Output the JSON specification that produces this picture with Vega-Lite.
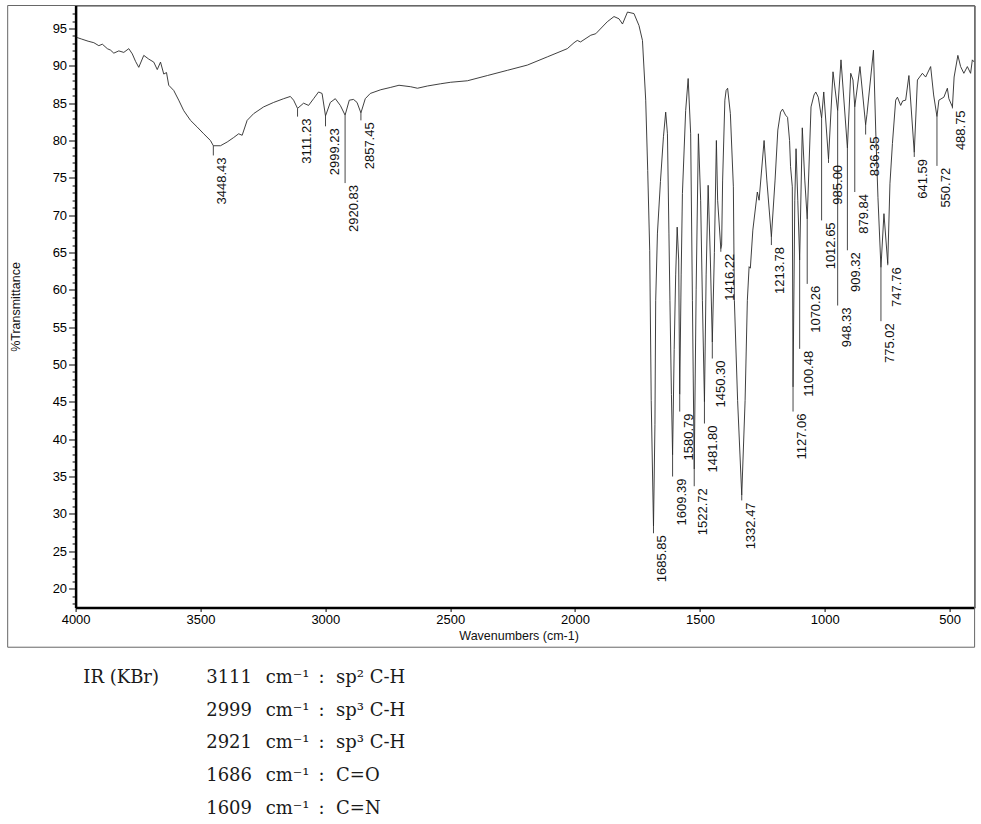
{
  "$schema": "https://vega.github.io/schema/vega-lite/v6.json",
  "background": "white",
  "padding": {"left": 6.6, "top": 4.5, "right": 0, "bottom": 0},
  "autosize": {"type": "pad"},
  "spacing": 5,
  "config": {
    "font": "Liberation Sans",
    "view": {"stroke": "#444", "strokeWidth": 1},
    "axis": {"labelFont": "Liberation Sans", "titleFont": "Liberation Sans", "labelColor": "#000", "titleColor": "#111", "grid": false, "titleFontWeight": "normal"}
  },
  "datasets": {
    "spectrum": [
      {"wn": 3995, "t": 93.8}, {"wn": 3977, "t": 93.6}, {"wn": 3950, "t": 93.3}, {"wn": 3927, "t": 93.1},
      {"wn": 3907, "t": 92.7}, {"wn": 3893, "t": 92.9}, {"wn": 3873, "t": 92.3}, {"wn": 3860, "t": 92.1},
      {"wn": 3847, "t": 91.7}, {"wn": 3827, "t": 92.0}, {"wn": 3807, "t": 91.8}, {"wn": 3787, "t": 92.3},
      {"wn": 3773, "t": 91.6}, {"wn": 3760, "t": 90.6}, {"wn": 3747, "t": 89.8}, {"wn": 3727, "t": 91.4},
      {"wn": 3707, "t": 90.9}, {"wn": 3687, "t": 90.5}, {"wn": 3673, "t": 89.5}, {"wn": 3660, "t": 90.5},
      {"wn": 3647, "t": 88.9}, {"wn": 3636, "t": 89.1}, {"wn": 3627, "t": 87.4}, {"wn": 3607, "t": 86.7},
      {"wn": 3587, "t": 85.4}, {"wn": 3567, "t": 84.0}, {"wn": 3540, "t": 82.7}, {"wn": 3513, "t": 81.8},
      {"wn": 3487, "t": 80.9}, {"wn": 3460, "t": 80.0}, {"wn": 3448.43, "t": 79.3}, {"wn": 3420, "t": 79.3},
      {"wn": 3393, "t": 79.8}, {"wn": 3367, "t": 80.4}, {"wn": 3347, "t": 80.9}, {"wn": 3333, "t": 80.7},
      {"wn": 3313, "t": 82.7}, {"wn": 3287, "t": 83.6}, {"wn": 3247, "t": 84.5}, {"wn": 3207, "t": 85.1},
      {"wn": 3167, "t": 85.6}, {"wn": 3140, "t": 85.9}, {"wn": 3127, "t": 85.4}, {"wn": 3111.23, "t": 84.3},
      {"wn": 3087, "t": 85.0}, {"wn": 3067, "t": 84.7}, {"wn": 3047, "t": 85.6}, {"wn": 3027, "t": 86.5},
      {"wn": 3013, "t": 86.3}, {"wn": 2999.23, "t": 83.3}, {"wn": 2980, "t": 85.1}, {"wn": 2960, "t": 85.6},
      {"wn": 2940, "t": 84.7}, {"wn": 2920.83, "t": 83.4}, {"wn": 2904, "t": 85.4}, {"wn": 2887, "t": 85.5},
      {"wn": 2873, "t": 85.1}, {"wn": 2857.45, "t": 83.7}, {"wn": 2840, "t": 85.6}, {"wn": 2820, "t": 86.3},
      {"wn": 2778, "t": 86.8}, {"wn": 2740, "t": 87.1}, {"wn": 2705, "t": 87.4}, {"wn": 2658, "t": 87.2},
      {"wn": 2631, "t": 87.0}, {"wn": 2591, "t": 87.3}, {"wn": 2538, "t": 87.6}, {"wn": 2498, "t": 87.8},
      {"wn": 2431, "t": 88.0}, {"wn": 2351, "t": 88.7}, {"wn": 2271, "t": 89.4}, {"wn": 2191, "t": 90.1},
      {"wn": 2111, "t": 91.2}, {"wn": 2031, "t": 92.3}, {"wn": 2004, "t": 93.1}, {"wn": 1991, "t": 93.4},
      {"wn": 1978, "t": 93.2}, {"wn": 1937, "t": 94.1}, {"wn": 1917, "t": 94.3}, {"wn": 1871, "t": 95.9},
      {"wn": 1844, "t": 96.6}, {"wn": 1824, "t": 96.3}, {"wn": 1810, "t": 95.6}, {"wn": 1790, "t": 97.2},
      {"wn": 1764, "t": 97.0}, {"wn": 1744, "t": 95.4}, {"wn": 1730, "t": 93.4}, {"wn": 1717, "t": 85.4},
      {"wn": 1709, "t": 76.0}, {"wn": 1701, "t": 65.3}, {"wn": 1695, "t": 45.2}, {"wn": 1685.85, "t": 28.3},
      {"wn": 1680, "t": 42.0}, {"wn": 1677, "t": 58.6}, {"wn": 1670, "t": 67.6}, {"wn": 1658, "t": 74.5},
      {"wn": 1646, "t": 80.5}, {"wn": 1637, "t": 83.8}, {"wn": 1630, "t": 80.9}, {"wn": 1624, "t": 67.6},
      {"wn": 1620, "t": 58.6}, {"wn": 1614, "t": 46.0}, {"wn": 1609.39, "t": 37.9}, {"wn": 1603, "t": 52.0},
      {"wn": 1597, "t": 62.0}, {"wn": 1591, "t": 68.4}, {"wn": 1585, "t": 64.0}, {"wn": 1580.79, "t": 46.0},
      {"wn": 1575, "t": 62.0}, {"wn": 1570, "t": 72.9}, {"wn": 1557, "t": 84.0}, {"wn": 1547, "t": 88.3},
      {"wn": 1537, "t": 80.9}, {"wn": 1530, "t": 58.6}, {"wn": 1522.72, "t": 36.0}, {"wn": 1515, "t": 60.0},
      {"wn": 1506, "t": 80.9}, {"wn": 1497, "t": 72.0}, {"wn": 1490, "t": 58.6}, {"wn": 1481.8, "t": 45.0},
      {"wn": 1475, "t": 62.0}, {"wn": 1467, "t": 74.0}, {"wn": 1458, "t": 64.0}, {"wn": 1450.3, "t": 53.0},
      {"wn": 1442, "t": 65.0}, {"wn": 1434, "t": 80.0}, {"wn": 1429, "t": 72.0}, {"wn": 1416.22, "t": 65.5},
      {"wn": 1413, "t": 66.0}, {"wn": 1409, "t": 74.7}, {"wn": 1400, "t": 85.4}, {"wn": 1395, "t": 86.7},
      {"wn": 1389, "t": 87.0}, {"wn": 1378, "t": 83.6}, {"wn": 1366, "t": 73.8}, {"wn": 1362, "t": 58.6},
      {"wn": 1349, "t": 45.2}, {"wn": 1332.47, "t": 32.5}, {"wn": 1319, "t": 45.2}, {"wn": 1310, "t": 58.6},
      {"wn": 1303, "t": 63.1}, {"wn": 1298, "t": 62.9}, {"wn": 1288, "t": 68.0}, {"wn": 1270, "t": 73.1},
      {"wn": 1263, "t": 72.0}, {"wn": 1243, "t": 80.0}, {"wn": 1232, "t": 74.7}, {"wn": 1213.78, "t": 67.1},
      {"wn": 1199, "t": 74.7}, {"wn": 1188, "t": 81.4}, {"wn": 1177, "t": 83.8}, {"wn": 1169, "t": 84.2},
      {"wn": 1157, "t": 83.4}, {"wn": 1149, "t": 83.1}, {"wn": 1141, "t": 80.0}, {"wn": 1137, "t": 76.5},
      {"wn": 1130, "t": 73.8}, {"wn": 1127.06, "t": 47.0}, {"wn": 1120, "t": 72.0}, {"wn": 1115, "t": 78.9},
      {"wn": 1108, "t": 72.0}, {"wn": 1100.48, "t": 64.0}, {"wn": 1090, "t": 81.7}, {"wn": 1080, "t": 74.7},
      {"wn": 1070.26, "t": 69.5}, {"wn": 1055, "t": 84.5}, {"wn": 1043, "t": 86.1}, {"wn": 1036, "t": 86.5},
      {"wn": 1026, "t": 85.8}, {"wn": 1012.65, "t": 83.0}, {"wn": 1004, "t": 86.5}, {"wn": 985.0, "t": 77.5},
      {"wn": 967, "t": 89.2}, {"wn": 948.33, "t": 84.0}, {"wn": 935, "t": 90.8}, {"wn": 909.32, "t": 79.0},
      {"wn": 896, "t": 89.0}, {"wn": 887, "t": 88.1}, {"wn": 879.84, "t": 84.5}, {"wn": 859, "t": 89.9},
      {"wn": 836.35, "t": 82.1}, {"wn": 831, "t": 83.5}, {"wn": 805, "t": 92.1}, {"wn": 796, "t": 81.4},
      {"wn": 787, "t": 72.4}, {"wn": 775.02, "t": 63.0}, {"wn": 763, "t": 70.2}, {"wn": 747.76, "t": 63.5},
      {"wn": 739, "t": 74.2}, {"wn": 729, "t": 79.6}, {"wn": 716, "t": 85.4}, {"wn": 709, "t": 85.8},
      {"wn": 696, "t": 84.7}, {"wn": 688, "t": 85.3}, {"wn": 676, "t": 85.4}, {"wn": 663, "t": 88.7},
      {"wn": 641.59, "t": 78.4}, {"wn": 629, "t": 88.1}, {"wn": 609, "t": 89.0}, {"wn": 596, "t": 88.5},
      {"wn": 576, "t": 89.9}, {"wn": 564, "t": 86.1}, {"wn": 550.72, "t": 83.2}, {"wn": 543, "t": 85.4},
      {"wn": 523, "t": 85.8}, {"wn": 509, "t": 87.0}, {"wn": 503, "t": 85.6}, {"wn": 488.75, "t": 84.5},
      {"wn": 482, "t": 88.5}, {"wn": 467, "t": 91.4}, {"wn": 456, "t": 89.9}, {"wn": 443, "t": 89.0},
      {"wn": 429, "t": 89.9}, {"wn": 416, "t": 89.0}, {"wn": 409, "t": 90.8}, {"wn": 401, "t": 90.5}
    ],
    "peaks": [
      {"wn": 3448.43, "label": "3448.43", "t": 79.3, "end": 78.0},
      {"wn": 3111.23, "label": "3111.23", "t": 84.3, "end": 83.2},
      {"wn": 2999.23, "label": "2999.23", "t": 83.3, "end": 81.9},
      {"wn": 2920.83, "label": "2920.83", "t": 83.4, "end": 74.3},
      {"wn": 2857.45, "label": "2857.45", "t": 83.7, "end": 82.7},
      {"wn": 1685.85, "label": "1685.85", "t": 28.3, "end": 27.4},
      {"wn": 1609.39, "label": "1609.39", "t": 37.9, "end": 35.0},
      {"wn": 1580.79, "label": "1580.79", "t": 46.0, "end": 43.7},
      {"wn": 1522.72, "label": "1522.72", "t": 36.0, "end": 33.7},
      {"wn": 1481.8, "label": "1481.80", "t": 45.0, "end": 42.1},
      {"wn": 1450.3, "label": "1450.30", "t": 53.0, "end": 50.8},
      {"wn": 1416.22, "label": "1416.22", "t": 65.5, "end": 65.1},
      {"wn": 1332.47, "label": "1332.47", "t": 32.5, "end": 31.8},
      {"wn": 1213.78, "label": "1213.78", "t": 67.1, "end": 66.0},
      {"wn": 1127.06, "label": "1127.06", "t": 47.0, "end": 43.7},
      {"wn": 1100.48, "label": "1100.48", "t": 64.0, "end": 52.1},
      {"wn": 1070.26, "label": "1070.26", "t": 69.5, "end": 60.8},
      {"wn": 1012.65, "label": "1012.65", "t": 83.0, "end": 69.3},
      {"wn": 985.0, "label": "985.00", "t": 77.5, "end": 77.0},
      {"wn": 948.33, "label": "948.33", "t": 84.0, "end": 57.9},
      {"wn": 909.32, "label": "909.32", "t": 79.0, "end": 65.3},
      {"wn": 879.84, "label": "879.84", "t": 84.5, "end": 73.1},
      {"wn": 836.35, "label": "836.35", "t": 82.1, "end": 80.8},
      {"wn": 775.02, "label": "775.02", "t": 63.0, "end": 55.8},
      {"wn": 747.76, "label": "747.76", "t": 63.5, "end": 63.3},
      {"wn": 641.59, "label": "641.59", "t": 78.4, "end": 77.8},
      {"wn": 550.72, "label": "550.72", "t": 83.2, "end": 76.6},
      {"wn": 488.75, "label": "488.75", "t": 84.5, "end": 84.3}
    ],
    "notes": [
      {"line": 1, "head": "IR (KBr)", "freq": "3111", "unit": "cm⁻¹", "sep": ":", "assign": "sp² C-H"},
      {"line": 2, "head": "", "freq": "2999", "unit": "cm⁻¹", "sep": ":", "assign": "sp³ C-H"},
      {"line": 3, "head": "", "freq": "2921", "unit": "cm⁻¹", "sep": ":", "assign": "sp³ C-H"},
      {"line": 4, "head": "", "freq": "1686", "unit": "cm⁻¹", "sep": ":", "assign": "C=O"},
      {"line": 5, "head": "", "freq": "1609", "unit": "cm⁻¹", "sep": ":", "assign": "C=N"}
    ]
  },
  "vconcat": [
    {
      "width": 899,
      "height": 602,
      "resolve": {"axis": {"x": "independent", "y": "independent"}},
      "layer": [
        {
          "data": {"name": "spectrum"},
          "mark": {"type": "line", "color": "#2a2a2a", "strokeWidth": 0.9, "clip": true},
          "encoding": {
            "x": {
              "field": "wn", "type": "quantitative", "title": "Wavenumbers (cm-1)",
              "scale": {"domain": [4000, 400], "nice": false, "zero": false},
              "axis": {"orient": "bottom", "values": [4000, 3500, 3000, 2500, 2000, 1500, 1000, 500], "format": "d", "ticks": true, "tickSize": 4, "tickColor": "#000", "tickWidth": 1, "domainColor": "#000", "domainWidth": 2.5, "labelFontSize": 13, "labelPadding": 2, "labelFlush": false, "labelOverlap": false, "titleFontSize": 12.5, "titlePadding": 3, "titleX": 443}
            },
            "y": {
              "field": "t", "type": "quantitative", "title": "%Transmittance",
              "scale": {"domain": [17.46, 98.08], "nice": false, "zero": false},
              "axis": {
                "orient": "left",
                "values": [18,19,20,21,22,23,24,25,26,27,28,29,30,31,32,33,34,35,36,37,38,39,40,41,42,43,44,45,46,47,48,49,50,51,52,53,54,55,56,57,58,59,60,61,62,63,64,65,66,67,68,69,70,71,72,73,74,75,76,77,78,79,80,81,82,83,84,85,86,87,88,89,90,91,92,93,94,95,96,97],
                "format": "d",
                "labelExpr": "datum.value % 5 === 0 ? datum.label : ''",
                "ticks": true,
                "tickSize": {"condition": {"test": "datum.value % 5 === 0", "value": 7}, "value": 3.5},
                "tickColor": "#000", "tickWidth": 1, "domainColor": "#000", "domainWidth": 2.5,
                "labelFontSize": 13, "labelPadding": 2, "labelOverlap": false, "labelFlush": false,
                "titleFontSize": 12.5, "titlePadding": 30
              }
            }
          }
        },
        {
          "data": {"values": [{}]},
          "mark": {"type": "rect", "fillOpacity": 0, "stroke": "#666", "strokeWidth": 1, "clip": false},
          "encoding": {
            "x": {"datum": 4272, "type": "quantitative", "scale": {"domain": [4000, 400], "nice": false, "zero": false}, "axis": null},
            "x2": {"datum": 400},
            "y": {"datum": 98.08, "type": "quantitative", "scale": {"domain": [17.46, 98.08], "nice": false, "zero": false}, "axis": null},
            "y2": {"datum": 12.14}
          }
        },
        {
          "data": {"name": "peaks"},
          "mark": {"type": "rule", "color": "#333", "strokeWidth": 0.9},
          "encoding": {
            "x": {"field": "wn", "type": "quantitative", "scale": {"domain": [4000, 400], "nice": false, "zero": false}, "axis": null},
            "y": {"field": "t", "type": "quantitative", "scale": {"domain": [17.46, 98.08], "nice": false, "zero": false}, "axis": null},
            "y2": {"field": "end"}
          }
        },
        {
          "data": {"name": "peaks"},
          "mark": {"type": "text", "angle": 270, "align": "right", "baseline": "top", "dx": -2, "dy": 3, "fontSize": 13, "font": "Liberation Sans", "color": "#111"},
          "encoding": {
            "x": {"field": "wn", "type": "quantitative", "scale": {"domain": [4000, 400], "nice": false, "zero": false}, "axis": null},
            "y": {"field": "end", "type": "quantitative", "scale": {"domain": [17.46, 98.08], "nice": false, "zero": false}, "axis": null},
            "text": {"field": "label"}
          }
        }
      ]
    },
    {
      "width": 899,
      "height": {"step": 32.7},
      "view": {"stroke": null},
      "data": {"name": "notes"},
      "encoding": {
        "y": {"field": "line", "type": "ordinal", "axis": null}
      },
      "layer": [
        {
          "mark": {"type": "text", "align": "left", "baseline": "alphabetic", "dy": 13.15, "font": "DejaVu Serif", "fontSize": 18, "color": "#1a1a1a"},
          "encoding": {
            "x": {"datum": 3969, "type": "quantitative", "scale": {"domain": [4000, 400], "nice": false, "zero": false}, "axis": null},
            "text": {"field": "head"}
          }
        },
        {
          "mark": {"type": "text", "align": "left", "baseline": "alphabetic", "dy": 13.15, "font": "DejaVu Serif", "fontSize": 18, "color": "#1a1a1a"},
          "encoding": {
            "x": {"datum": 3477, "type": "quantitative", "scale": {"domain": [4000, 400], "nice": false, "zero": false}, "axis": null},
            "text": {"field": "freq"}
          }
        },
        {
          "mark": {"type": "text", "align": "left", "baseline": "alphabetic", "dy": 13.15, "font": "DejaVu Serif", "fontSize": 18, "color": "#1a1a1a"},
          "encoding": {
            "x": {"datum": 3239, "type": "quantitative", "scale": {"domain": [4000, 400], "nice": false, "zero": false}, "axis": null},
            "text": {"field": "unit"}
          }
        },
        {
          "mark": {"type": "text", "align": "left", "baseline": "alphabetic", "dy": 13.15, "font": "DejaVu Serif", "fontSize": 18, "color": "#1a1a1a"},
          "encoding": {
            "x": {"datum": 3027, "type": "quantitative", "scale": {"domain": [4000, 400], "nice": false, "zero": false}, "axis": null},
            "text": {"field": "sep"}
          }
        },
        {
          "mark": {"type": "text", "align": "left", "baseline": "alphabetic", "dy": 13.15, "font": "DejaVu Serif", "fontSize": 18, "color": "#1a1a1a"},
          "encoding": {
            "x": {"datum": 2957, "type": "quantitative", "scale": {"domain": [4000, 400], "nice": false, "zero": false}, "axis": null},
            "text": {"field": "assign"}
          }
        }
      ]
    }
  ]
}
